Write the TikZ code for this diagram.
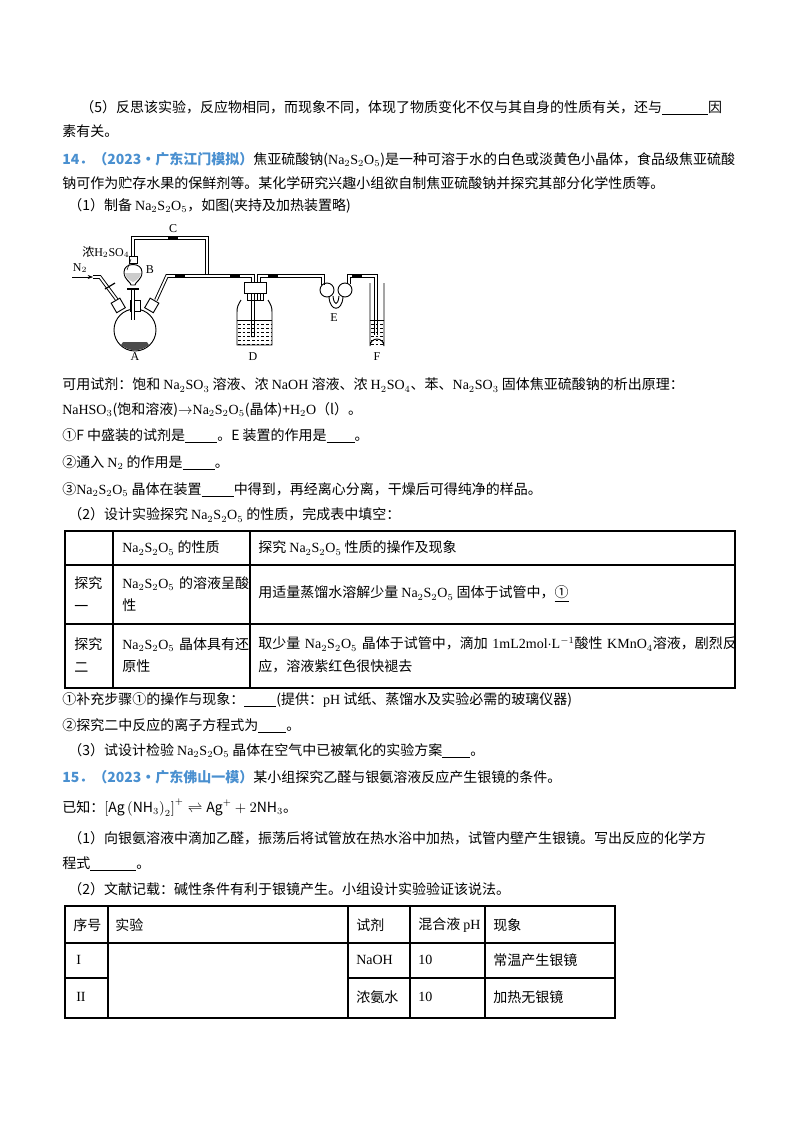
\documentclass[tikz,border=0pt]{standalone}
\usepackage{fontspec}
\setmainfont{Noto Sans CJK SC}
\newfontfamily\tn{Liberation Serif}
\usetikzlibrary{arrows.meta}
\newcommand{\tm}[1]{{\tn #1}}
\newcommand{\blank}[1]{\underline{\hspace{#1}}}
\begin{document}
\begin{tikzpicture}[x=0.75pt,y=-0.75pt,
  t/.style={anchor=west,inner sep=0pt,font=\fontsize{10.5}{12}\selectfont},
  tube/.style={line width=0.7pt,double=white,double distance=1.3pt},
  glass/.style={line width=0.7pt},
  clip/.style={fill=black,minimum width=7pt,minimum height=3.5pt,inner sep=0pt},
  tb/.style={line width=0.8pt}]
\useasboundingbox (0,0) rectangle (800,1132);
\fill[white] (0,0) rectangle (800,1132);
% text
\node[t] (l1) at (80,108) {（5）反思该实验，反应物相同，而现象不同，体现了物质变化不仅与其自身的性质有关，还与\blank{3.3em}因};
\node[t] (l2) at (62,131) {素有关。};
\node[t] (l3) at (62,160) {{\color[HTML]{4A90D0}\bfseries 14．（2023·广东江门模拟）}焦亚硫酸钠(\tm{Na$_2$S$_2$O$_5$})是一种可溶于水的白色或淡黄色小晶体，食品级焦亚硫酸};
\node[t] (l4) at (62,183) {钠可作为贮存水果的保鲜剂等。某化学研究兴趣小组欲自制焦亚硫酸钠并探究其部分化学性质等。};
\node[t] (l5) at (68,206) {（1）制备 \tm{Na$_2$S$_2$O$_5$}，如图(夹持及加热装置略)};
\node[t] (l6) at (62,385) {可用试剂：饱和 \tm{Na$_2$SO$_3$} 溶液、浓 \tm{NaOH} 溶液、浓 \tm{H$_2$SO$_4$}、苯、\tm{Na$_2$SO$_3$} 固体焦亚硫酸钠的析出原理：};
\node[t] (l7) at (62,410) {\tm{NaHSO$_3$}(饱和溶液)$\rightarrow$\tm{Na$_2$S$_2$O$_5$}(晶体)+\tm{H$_2$O}（l）。};
\node[t] (l8) at (62,436) {①F 中盛装的试剂是\blank{2.3em}。E 装置的作用是\blank{2em}。};
\node[t] (l9) at (62,463) {②通入 \tm{N$_2$} 的作用是\blank{2.3em}。};
\node[t] (l10) at (62,490) {③\tm{Na$_2$S$_2$O$_5$} 晶体在装置\blank{2.3em}中得到，再经离心分离，干燥后可得纯净的样品。};
\node[t] (l11) at (68,515) {（2）设计实验探究 \tm{Na$_2$S$_2$O$_5$} 的性质，完成表中填空：};
% table 1
\draw[tb] (65,531) rectangle (735,688);
\draw[tb] (65,565) -- (735,565) (65,624) -- (735,624) (113,531) -- (113,688) (250,531) -- (250,688);
\node[t] (a1) at (122,548) {\tm{Na$_2$S$_2$O$_5$} 的性质};
\node[t] (a2) at (258,548) {探究 \tm{Na$_2$S$_2$O$_5$} 性质的操作及现象};
\node[t,align=left,text width=40pt] (b0) at (74,594) {探究\\[5pt]一};
\node[t,align=left,text width=130pt] (b1) at (122,594) {\tm{Na$_2$S$_2$O$_5$} 的溶液呈酸\\[5pt]性};
\node[t] (b2) at (258,594) {用适量蒸馏水溶解少量 \tm{Na$_2$S$_2$O$_5$} 固体于试管中，\underline{①}};
\node[t,align=left,text width=40pt] (c0) at (74,655) {探究\\[5pt]二};
\node[t,align=left,text width=130pt] (c1) at (122,655) {\tm{Na$_2$S$_2$O$_5$} 晶体具有还\\[5pt]原性};
\node[t,align=left,text width=470pt] (c2) at (258,655) {取少量 \tm{Na$_2$S$_2$O$_5$} 晶体于试管中，滴加 \tm{1mL2mol$\cdot$L$^{-1}$}酸性 \tm{KMnO$_4$}溶液，剧烈反\\[5pt]应，溶液紫红色很快褪去};
\node[t] (l12) at (62,700) {①补充步骤①的操作与现象：\blank{2.3em}(提供：\tm{pH} 试纸、蒸馏水及实验必需的玻璃仪器)};
\node[t] (l13) at (62,726) {②探究二中反应的离子方程式为\blank{2em}。};
\node[t] (l14) at (68,751) {（3）试设计检验 \tm{Na$_2$S$_2$O$_5$} 晶体在空气中已被氧化的实验方案\blank{2em}。};
\node[t] (l15) at (62,777) {{\color[HTML]{4A90D0}\bfseries 15．（2023·广东佛山一模）}某小组探究乙醛与银氨溶液反应产生银镜的条件。};
\node[t] (l16) at (62,808) {已知：$\left[\mathrm{Ag}\left(\mathrm{NH}_3\right)_2\right]^+\rightleftharpoons\mathrm{Ag}^+ + 2\mathrm{NH}_3$。};
\node[t] (l17) at (68,838) {（1）向银氨溶液中滴加乙醛，振荡后将试管放在热水浴中加热，试管内壁产生银镜。写出反应的化学方};
\node[t] (l18) at (62,864) {程式\blank{3.3em}。};
\node[t] (l19) at (68,889) {（2）文献记载：碱性条件有利于银镜产生。小组设计实验验证该说法。};
% table 2
\draw[tb] (65,906) rectangle (615,1018);
\draw[tb] (65,943) -- (615,943) (108,906) -- (108,1018) (348,906) -- (348,1018) (410,906) -- (410,1018) (485,906) -- (485,1018);
\draw[tb] (348,978) -- (615,978) (65,978) -- (108,978);
\node[t] (h1) at (73,925) {序号};
\node[t] (h2) at (115,925) {实验};
\node[t] (h3) at (356,925) {试剂};
\node[t] (h4) at (418,925) {混合液 \tm{pH}};
\node[t] (h5) at (493,925) {现象};
\node[t] (r1) at (76,960) {\tm{I}};
\node[t] (r2) at (76,997) {\tm{II}};
\node[t] (r13) at (356,960) {\tm{NaOH}};
\node[t] (r14) at (418,960) {\tm{10}};
\node[t] (r15) at (493,960) {常温产生银镜};
\node[t] (r23) at (356,997) {浓氨水};
\node[t] (r24) at (418,997) {\tm{10}};
\node[t] (r25) at (493,997) {加热无银镜};
% apparatus
\begin{scope}[font=\fontsize{9}{10}\selectfont]
% tubes first
\coordinate (j) at (207,276);
\draw[tube] (133,256) -- (133,238) -- (207,238) -- (j);
\draw[tube] (156,300) -- (167,276) -- (253,276) -- (253,337);
\draw[tube] (259,300) -- (259,276) -- (323,276) -- (323,285);
\draw[tube] (349,284) -- (349,276) -- (376,276) -- (376,335);
\draw[tube] (93,277) -- (100,277) -- (117,300);
\draw[tube] (133,288) -- (133,320);
% flask A
\filldraw[glass,fill=white] (135,330) circle (21);
\fill[black!70] (121,345) .. controls (130,352) and (140,352) .. (149,345) -- (147,342) -- (123,342) -- cycle;
\filldraw[glass,fill=white] (130,311) rectangle (140,300);
\filldraw[glass,fill=white,rotate around={30:(118,305)}] (113,300) rectangle (123,311);
\filldraw[glass,fill=white,rotate around={-30:(152,305)}] (147,300) rectangle (157,311);
\draw[tube] (133,296) -- (133,320);
\node (A) at (135,357) {\tn A};
% N2 inlet
\coordinate (n0) at (72,277);
\draw[-{Stealth[length=4pt]}] (n0) -- (93,277);
\draw[line width=0.9pt] (105,289) -- (115,283);
\node (N2) at (80,268) {\tn N$_2$};
% funnel B
\filldraw[glass,fill=white] (124,272) .. controls (124,262) and (142,262) .. (142,272) .. controls (142,280) and (135,282) .. (135,285) -- (131,285) .. controls (131,282) and (124,280) .. (124,272) -- cycle;
\fill[black!20] (125,273) -- (141,273) .. controls (140,279) and (135,281) .. (133,282) .. controls (129,280) and (126,278) .. (125,273);
\filldraw[glass,fill=white] (129,263) rectangle (137,256);
\draw[line width=0.9pt] (127,289) -- (139,289);
\node (B) at (150,270) {\tn B};
\node[anchor=east,inner sep=1pt] (H) at (131,252) {浓\tn H$_2$SO$_4$};
\draw[line width=0.4pt] (H.south east) -- (127,270);
\node[clip] (cC) at (173,238) {};
\node (C) at (173,229) {\tn C};
\node[clip] at (180,276) {};
\node[clip] at (235,276) {};
\node[clip] at (273,276) {};
\node[clip] at (357,276) {};
% D
\draw[glass] (241,300) .. controls (238,305) and (237,307) .. (237,312) -- (237,345) -- (272,345) -- (272,312) .. controls (272,307) and (271,305) .. (268,300);
\filldraw[glass,fill=white] (244,293) rectangle (266,282);
\draw[glass] (247,293) -- (247,300) -- (263,300) -- (263,293);
\draw[dash pattern=on 2pt off 1.5pt,line width=0.3pt] \foreach \yy in {324,328,...,344} {(238,\yy) -- (271,\yy)};
\draw[line width=0.4pt] (237,320) -- (272,320);
\node (D) at (253,357) {\tn D};
% E
\draw[glass] (327,290) circle (7) (345,290) circle (7);
\draw[glass] (329,297) .. controls (330,312) and (342,312) .. (343,297);
\draw[glass] (333,296) .. controls (334,306) and (338,306) .. (339,296);
\node (E) at (334,318) {\tn E};
% F
\draw[glass] (370,283) -- (370,346) arc (180:360:7) -- (384,283);
\draw[line width=0.4pt] (370,320) -- (384,320);
\draw[dash pattern=on 2pt off 1.5pt,line width=0.3pt] \foreach \yy in {324,328,...,344} {(371,\yy) -- (383,\yy)};
\node (F) at (377,357) {\tn F};
\end{scope}
\end{tikzpicture}
\end{document}
